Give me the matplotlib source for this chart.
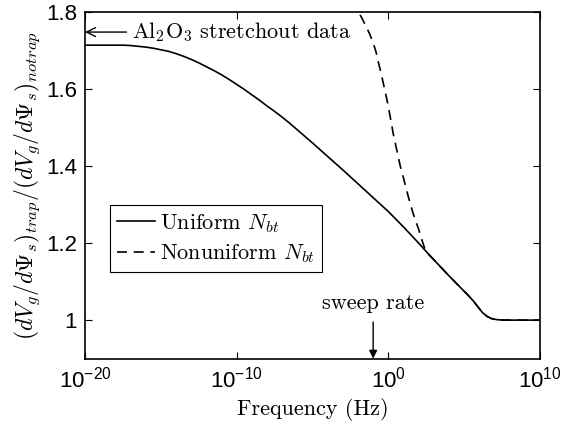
import numpy as np
import matplotlib
matplotlib.use("Agg")
import matplotlib.pyplot as plt

plt.rcParams['font.family'] = ['Liberation Sans', 'DejaVu Sans']
plt.rcParams['mathtext.fontset'] = 'cm'

# log10(frequency) and ratio
uniform_logf = [-20, -18, -17.5, -17, -16.5, -16, -15.5, -15, -14.5, -14, -13.5, -13, -12.5,
                -12, -11.5, -11, -10.5, -10, -9.5, -9, -8.5, -8, -7.5, -7, -6.5, -6, -5, -4,
                -3, -2, -1, 0, 1, 2, 2.5, 3, 4, 4.5, 5, 5.3, 5.6, 5.9, 6.2, 6.5, 6.8, 7.2,
                7.6, 8, 10]
uniform_ratio = [1.714, 1.714, 1.714, 1.713, 1.711, 1.709, 1.706, 1.702, 1.698, 1.692, 1.685,
                 1.677, 1.668, 1.658, 1.648, 1.637, 1.625, 1.612, 1.599, 1.585, 1.571, 1.556,
                 1.542, 1.527, 1.511, 1.494, 1.460, 1.425, 1.390, 1.354, 1.318, 1.282, 1.242,
                 1.200, 1.178, 1.157, 1.115, 1.095, 1.075, 1.063, 1.050, 1.035, 1.020, 1.010,
                 1.004, 1.001, 1.000, 1.000, 1.000]

nonuni_logf = [-2.2, -1.98, -1.75, -1.5, -1.25, -0.99, -0.8, -0.66, -0.5, -0.33, -0.15, 0,
               0.16, 0.32, 0.5, 0.65, 0.8, 0.98, 1.15, 1.31, 1.47, 1.64, 1.8, 2.0, 2.2, 2.4,
               2.52, 3, 4, 4.5, 5, 5.3, 5.6, 5.9, 6.2, 6.5, 6.8, 7.2, 7.6, 8, 10]
nonuni_ratio = [1.84, 1.80, 1.785, 1.765, 1.745, 1.719, 1.695, 1.67, 1.645, 1.615, 1.583,
                1.555, 1.52, 1.485, 1.452, 1.425, 1.398, 1.372, 1.346, 1.322, 1.299, 1.277,
                1.258, 1.236, 1.210, 1.186, 1.176, 1.157, 1.115, 1.095, 1.075, 1.063, 1.050,
                1.035, 1.020, 1.010, 1.004, 1.001, 1.000, 1.000, 1.000]

sweep_rate = 0.1  # Hz
stretchout = 1.748

xticks = [1e-20, 1e-10, 1e0, 1e10]
xticklabels = [r'$\mathregular{10^{-20}}$', r'$\mathregular{10^{-10}}$',
               r'$\mathregular{10^{0}}$', r'$\mathregular{10^{10}}$']
yticks = [1, 1.2, 1.4, 1.6, 1.8]
yticklabels = ['1', '1.2', '1.4', '1.6', '1.8']

serif = 'cmr10'

fig = plt.figure(figsize=(5.75, 4.3), dpi=100)
ax = fig.add_axes([0.148, 0.166, 0.791, 0.806])

f_u = 10.0 ** np.array(uniform_logf)
f_n = 10.0 ** np.array(nonuni_logf)
ax.plot(f_u, uniform_ratio, color='black', lw=1.2, label=r'Uniform $N_{bt}$')
ax.plot(f_n, nonuni_ratio, color='black', lw=1.2, linestyle=(0, (6, 4)),
        label=r'Nonuniform $N_{bt}$')

ax.set_xscale('log')
ax.set_xlim(1e-20, 1e10)
ax.set_ylim(0.9, 1.8)
ax.set_xticks(xticks)
ax.set_xticklabels(xticklabels)
ax.xaxis.set_minor_locator(matplotlib.ticker.NullLocator())
ax.set_yticks(yticks)
ax.set_yticklabels(yticklabels)
ax.tick_params(direction='in', length=5, width=0.8, labelsize=16, top=True, right=True, pad=6)
for s in ax.spines.values():
    s.set_linewidth(1.2)

ax.set_xlabel('Frequency (Hz)', family=serif, fontsize=16, labelpad=4)
ax.set_ylabel(r'$(dV_g/d\Psi_s)_{trap}/(dV_g/d\Psi_s)_{notrap}$', fontsize=17, labelpad=3)

# annotations
ax.annotate(r'Al$_2$O$_3$ stretchout data', xy=(1e-20, stretchout),
            xytext=(10 ** -16.9, stretchout), family=serif, fontsize=16,
            ha='left', va='center',
            arrowprops=dict(arrowstyle='->', color='black', lw=1.0, shrinkA=2, shrinkB=0))
ax.annotate('', xy=(sweep_rate, 0.9), xytext=(sweep_rate, 0.995),
            arrowprops=dict(arrowstyle='-|>', color='black', lw=1.0, shrinkA=0, shrinkB=0,
                            mutation_scale=12))
ax.text(sweep_rate, 1.044, 'sweep rate', family=serif, fontsize=16, ha='center', va='center')

leg = ax.legend(loc='upper left', bbox_to_anchor=(0.055, 0.443), borderaxespad=0,
                prop={'family': serif, 'size': 16}, fancybox=False, framealpha=1,
                edgecolor='black', handlelength=1.7, handletextpad=0.25,
                labelspacing=0.35, borderpad=0.3)
leg.get_frame().set_linewidth(0.8)

fig.savefig('out.png', dpi=100)
